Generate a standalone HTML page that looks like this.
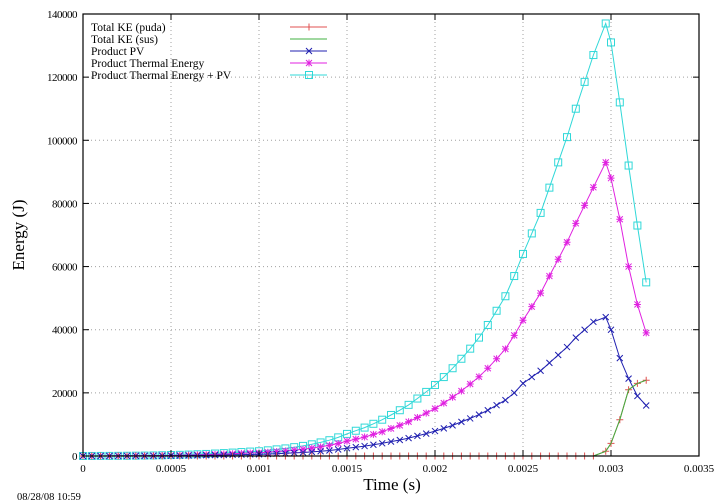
<!DOCTYPE html>
<html><head><meta charset="utf-8"><style>
html,body{margin:0;padding:0;background:#fff;}
svg{display:block;font-family:"Liberation Serif",serif;}
</style></head><body>
<svg id="chart" width="720" height="504" viewBox="0 0 720 504" xmlns="http://www.w3.org/2000/svg">
<rect x="0" y="0" width="720" height="504" fill="#fff"/>
<g id="grid"></g>
<g id="series"></g>
<g id="axes"></g>
<g id="legend"></g>
<text x="24" y="235" font-size="17" text-anchor="middle" transform="rotate(-90 24 235)">Energy (J)</text>
<text x="392" y="490" font-size="17" text-anchor="middle">Time (s)</text>
<text x="17" y="500" font-size="10.5">08/28/08 10:59</text>
</svg>
<script>
const times = [0,0.00005,0.0001,0.00015,0.0002,0.00025,0.0003,0.00035,0.0004,0.00045,0.0005,
0.00055,0.0006,0.00065,0.0007,0.00075,0.0008,0.00085,0.0009,0.00095,0.001,
0.00105,0.0011,0.00115,0.0012,0.00125,0.0013,0.00135,0.0014,0.00145,0.0015,
0.00155,0.0016,0.00165,0.0017,0.00175,0.0018,0.00185,0.0019,0.00195,0.002,
0.00205,0.0021,0.00215,0.0022,0.00225,0.0023,0.00235,0.0024,0.00245,0.0025,
0.00255,0.0026,0.00265,0.0027,0.00275,0.0028,0.00285,0.0029,0.00297,0.003,
0.00305,0.0031,0.00315,0.0032];
const totalPV = [0,10,20,30,50,70,100,130,170,230,300,
370,450,540,650,780,920,1080,1250,1400,1500,
1800,2100,2400,2800,3200,3700,4300,5000,5900,7000,
8000,9000,10200,11500,13000,14500,16200,18200,20300,22500,
25000,27800,30800,34000,37500,41500,46000,50600,57000,64000,
70500,77000,85000,93000,101000,110000,118500,127000,137000,131000,
112000,92000,73000,55000];
const thermal = [0,7,13,20,33,47,67,87,114,154,200,
248,300,360,435,520,615,720,840,940,1000,
1200,1400,1600,1870,2150,2500,2900,3350,3950,4700,
5350,6000,6850,7700,8700,9700,10850,12200,13600,15000,
16750,18600,20600,22800,25100,27800,30800,33900,38200,43000,
47300,51600,57000,62300,67700,73700,79400,85100,93000,88000,
75000,60000,48000,39000];
const pv = [0,4,7,10,17,24,35,45,60,80,105,
130,158,190,228,273,322,378,438,490,525,
630,735,840,980,1120,1300,1500,1750,2070,2450,
2800,3150,3570,4020,4550,5070,5670,6370,7100,7900,
8750,9700,10800,11900,13100,14500,16100,17700,20000,23000,
25000,27000,29500,32000,34500,37500,40000,42500,44000,40000,
31000,24500,19000,16000];
const kePuda = [0,0,0,0,0,0,0,0,0,0,0,0,0,0,0,0,0,0,0,0,0,
0,0,0,0,0,0,0,0,0,0,0,0,0,0,0,0,0,0,0,0,
0,0,0,0,0,0,0,0,0,0,0,0,0,0,0,0,0,0,1500,4000,
11500,21000,23000,24000];
const keSus = kePuda.slice();
const xTicks = [0,0.0005,0.001,0.0015,0.002,0.0025,0.003,0.0035];
const xTickLabels = ["0","0.0005","0.001","0.0015","0.002","0.0025","0.003","0.0035"];
const yTicks = [0,20000,40000,60000,80000,100000,120000,140000];
const yTickLabels = ["0","20000","40000","60000","80000","100000","120000","140000"];

const L=83,R=699,T=14,B=456;
const xs=v=>L+(v/0.0035)*(R-L);
const ys=v=>B-(v/140000)*(B-T);
const NS="http://www.w3.org/2000/svg";
function mk(tag,attrs,parent){const e=document.createElementNS(NS,tag);for(const k in attrs)e.setAttribute(k,attrs[k]);parent.appendChild(e);return e;}
const grid=document.getElementById('grid'),axes=document.getElementById('axes'),ser=document.getElementById('series'),leg=document.getElementById('legend');

xTicks.forEach((t,i)=>{
  const x=xs(t);
  if(i>0&&i<xTicks.length-1){const g=mk('line',{x1:x,y1:T,x2:x,y2:B,stroke:'#a0a0a0','stroke-dasharray':'1,3','stroke-width':1},grid);
  }
  const a=mk('line',{x1:x,y1:B,x2:x,y2:B-6,stroke:'#000'},axes);
  
  const b=mk('line',{x1:x,y1:T,x2:x,y2:T+6,stroke:'#000'},axes);
  
  const tx=mk('text',{x:x,y:472,'font-size':11,'text-anchor':'middle'},axes);tx.textContent=xTickLabels[i];
  
});
yTicks.forEach((v,i)=>{
  const y=ys(v);
  if(i>0&&i<yTicks.length-1){const g=mk('line',{x1:L,y1:y,x2:R,y2:y,stroke:'#a0a0a0','stroke-dasharray':'1,3','stroke-width':1},grid);
  }
  const a=mk('line',{x1:L,y1:y,x2:L+6,y2:y,stroke:'#000'},axes);
  
  const b=mk('line',{x1:R,y1:y,x2:R-6,y2:y,stroke:'#000'},axes);
  
  const tx=mk('text',{x:77,y:y+4,'font-size':11,'text-anchor':'end','letter-spacing':'-0.5'},axes);tx.textContent=yTickLabels[i];
  
});
const fr=mk('rect',{x:L,y:T,width:R-L,height:B-T,fill:'none',stroke:'#000','stroke-width':1.2},axes);


function marker(type,x,y,color,parent){
  let e;
  if(type==='plus'){e=mk('path',{d:`M${x-3.5},${y}h7M${x},${y-3.5}v7`,stroke:color,fill:'none'},parent);}
  else if(type==='x'){e=mk('path',{d:`M${x-3},${y-3}l6,6M${x-3},${y+3}l6,-6`,stroke:color,fill:'none'},parent);}
  else if(type==='star'){e=mk('path',{d:`M${x-3.5},${y}h7M${x},${y-3.5}v7M${x-3},${y-3}l6,6M${x-3},${y+3}l6,-6`,stroke:color,fill:'none'},parent);}
  else if(type==='square'){e=mk('rect',{x:x-3.5,y:y-3.5,width:7,height:7,stroke:color,fill:'none'},parent);}
  if(e){}
}
const seriesList=[
 {name:'Total KE (puda)',vals:kePuda,color:'#e05050',m:'plus',id:'total-ke-puda'},
 {name:'Total KE (sus)',vals:keSus,color:'#40b040',m:null,id:'total-ke-sus'},
 {name:'Product PV',vals:pv,color:'#2020b0',m:'x',id:'product-pv'},
 {name:'Product Thermal Energy',vals:thermal,color:'#e020e0',m:'star',id:'product-thermal-energy'},
 {name:'Product Thermal Energy + PV',vals:totalPV,color:'#30d8d8',m:'square',id:'thermal-plus-pv'}
];
const order=[4,3,2,0,1];
order.forEach(si=>{
  const s=seriesList[si];
  const g=mk('g',{},ser);
  const d=s.vals.map((v,i)=>(i?'L':'M')+xs(times[i]).toFixed(1)+','+ys(v).toFixed(1)).join('');
  const p=mk('path',{d:d,stroke:s.color,fill:'none','stroke-width':1},g);
  
  if(s.m) s.vals.forEach((v,i)=>marker(s.m,xs(times[i]),ys(v),s.color,g));
});
seriesList.forEach((s,i)=>{
  const y=27+i*12;
  const g=mk('g',{},leg);
  const t=mk('text',{x:91,y:y+4,'font-size':11.5},g);t.textContent=s.name;
  
  const l=mk('line',{x1:290,y1:y,x2:327,y2:y,stroke:s.color},g);
  
  if(s.m) marker(s.m,309,y,s.color,g);
});
</script>
</body></html>
